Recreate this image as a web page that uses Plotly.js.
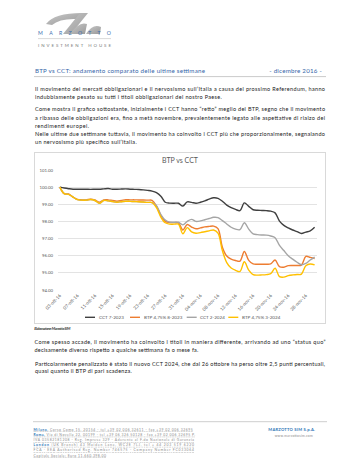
<!DOCTYPE html>
<html>
<head>
<meta charset="utf-8">
<script src="https://cdn.plot.ly/plotly-3.0.1.min.js"></script>
<style>
  html, body { margin:0; padding:0; background:#fff; }
  #page { position:relative; width:360px; height:466px; overflow:hidden; background:#fff; }
  #txt { position:absolute; left:0; top:0; }
  #frame { position:absolute; left:34px; top:152px; width:292px; height:172px; box-sizing:border-box; border:0.75px solid #d9d9d9; }
  #chart { position:absolute; left:34px; top:152px; width:292px; height:172px; }
  text { font-family: Lato, "Open Sans", sans-serif; }
</style>
</head>
<body>
<div id="page">
<svg id="txt" width="360" height="466" xmlns="http://www.w3.org/2000/svg">
  <defs>
    <linearGradient id="lg" x1="0" y1="0" x2="1" y2="1">
      <stop offset="0" stop-color="#c8c8c8"/>
      <stop offset="1" stop-color="#9a9a9a"/>
    </linearGradient>
  </defs>
  <path d="M46,24 Q54,13 82,13 L78,19 Q60,18 52,25 Z" fill="url(#lg)"/>
  <path d="M80,13 L88,13 L71,34 L63,34 Z" fill="url(#lg)"/>
  <path d="M70,34 Q79,21 87,24 L85,34 Z" fill="url(#lg)"/>
  <path d="M86,34 Q93,23 101,27 L100,34 Z" fill="url(#lg)"/>
  <text x="38" y="35.2" font-size="5.2" fill="#3a6fb0" textLength="73" lengthAdjust="spacing">MARZOTTO</text>
  <line x1="38" y1="38.6" x2="111" y2="38.6" stroke="#b5b5b5" stroke-width="0.5"/>
  <text x="38" y="46.6" font-size="4.4" fill="#7a7a7a" textLength="73" lengthAdjust="spacing">INVESTMENT HOUSE</text>

  <text x="35" y="73.2" font-size="6.2" fill="#3465a8" textLength="170" lengthAdjust="spacing">BTP vs CCT: andamento comparato delle ultime settimane</text>
  <text x="269.3" y="73.2" font-size="6.2" fill="#3465a8" textLength="52.4" lengthAdjust="spacing">- dicembre 2016 -</text>
  <line x1="34" y1="76.6" x2="326" y2="76.6" stroke="#a6a6a6" stroke-width="0.6"/>

  <g font-size="5.5" fill="#1a1a1a">
    <text x="35" y="91.2" textLength="290" lengthAdjust="spacing">Il movimento dei mercati obbligazionari e il nervosismo sull’Italia a causa del prossimo Referendum, hanno</text>
    <text x="35" y="98.8" textLength="186.7" lengthAdjust="spacing">indubbiamente pesato su tutti i titoli obbligazionari del nostro Paese.</text>

    <text x="35" y="111.4" textLength="290" lengthAdjust="spacing">Come mostra il grafico sottostante, inizialmente i CCT hanno “retto” meglio dei BTP, segno che il movimento</text>
    <text x="35" y="119.5" textLength="290" lengthAdjust="spacing">a ribasso delle obbligazioni era, fino a metà novembre, prevalentemente legato alle aspettative di rialzo dei</text>
    <text x="35" y="127.6" textLength="54" lengthAdjust="spacing">rendimenti europei.</text>
    <text x="35" y="135.7" textLength="290" lengthAdjust="spacing">Nelle ultime due settimane tuttavia, il movimento ha coinvolto i CCT più che proporzionalmente, segnalando</text>
    <text x="35" y="143.8" textLength="101.7" lengthAdjust="spacing">un nervosismo più specifico sull’Italia.</text>

    <text x="34.5" y="344.2" textLength="291" lengthAdjust="spacing">Come spesso accade, il movimento ha coinvolto i titoli in maniera differente, arrivando ad uno “status quo”</text>
    <text x="34.5" y="351.7" textLength="163.8" lengthAdjust="spacing">decisamente diverso rispetto a qualche settimana fa o mese fa.</text>

    <text x="35" y="365.5" textLength="290" lengthAdjust="spacing">Particolarmente penalizzato è stato il nuovo CCT 2024, che dal 26 ottobre ha perso oltre 2,5 punti percentuali,</text>
    <text x="35" y="373.2" textLength="96.7" lengthAdjust="spacing">quasi quanto il BTP di pari scadenza.</text>
  </g>

  <text x="34.3" y="329.5" font-size="3.9" font-style="italic" font-weight="bold" fill="#404040" textLength="36" lengthAdjust="spacing">Elaborazione: Marzotto SIM</text>

  <line x1="33" y1="421.7" x2="327" y2="421.7" stroke="#c0c0c0" stroke-width="0.8"/>
  <g font-size="3.4" fill="#8a8a8a" text-decoration="underline">
    <text x="33.5" y="430.5" textLength="159.2" lengthAdjust="spacing"><tspan fill="#2e75b6" font-weight="bold">Milano,</tspan> Corso Como 15, 20154 - tel +39 02 006 32611 - fax +39 02 006 32695</text>
    <text x="33.5" y="435.8" textLength="161.5" lengthAdjust="spacing"><tspan fill="#2e75b6" font-weight="bold">Roma,</tspan> Via di Novella 22, 00199 - tel +39 06 326 50128 - fax +39 02 006 32695   P.</text>
    <text x="33.5" y="441.1" textLength="160.5" lengthAdjust="spacing">IVA 03582181208 - Reg. Imprese 329 - Aderente al F.do Nazionale di Garanzia</text>
    <text x="33.5" y="445.9" textLength="160.5" lengthAdjust="spacing"><tspan fill="#2e75b6" font-weight="bold">London</tspan> (UK Branch) 43 Maiden Lane, WC2E 7LJ, tel + 44 203 519 6220</text>
    <text x="33.5" y="451.2" textLength="160.5" lengthAdjust="spacing">FCA - EEA Authorised Reg. Number 746575 - Company Number FC033064</text>
    <text x="33.5" y="456.5" textLength="72.5" lengthAdjust="spacing">Capitale Sociale: Euro 11.660.398,00</text>
  </g>
  <text x="268.3" y="430.8" font-size="4.1" font-weight="bold" fill="#2e75b6" textLength="46.7" lengthAdjust="spacing">MARZOTTO SIM S.p.A.</text>
  <text x="274.7" y="436.5" font-size="3.3" fill="#8a8a8a" textLength="38" lengthAdjust="spacing">www.marzottosim.com</text>
</svg>
<div id="frame"></div>
<div id="chart"></div>
</div>
<script>
// ---- data ----
const dates = [
 '2016-10-03','2016-10-04','2016-10-05','2016-10-06','2016-10-07','2016-10-08','2016-10-09',
 '2016-10-10','2016-10-11','2016-10-12','2016-10-13','2016-10-14','2016-10-15','2016-10-16',
 '2016-10-17','2016-10-18','2016-10-19','2016-10-20','2016-10-21','2016-10-22','2016-10-23',
 '2016-10-24','2016-10-25','2016-10-26','2016-10-27','2016-10-28','2016-10-29','2016-10-30',
 '2016-10-31','2016-11-01','2016-11-02','2016-11-03','2016-11-04','2016-11-05','2016-11-06',
 '2016-11-07','2016-11-08','2016-11-09','2016-11-10','2016-11-11','2016-11-12','2016-11-13',
 '2016-11-14','2016-11-15','2016-11-16','2016-11-17','2016-11-18','2016-11-19','2016-11-20',
 '2016-11-21','2016-11-22','2016-11-23','2016-11-24','2016-11-25','2016-11-26','2016-11-27',
 '2016-11-28','2016-11-29','2016-11-30'
];
const cct2023 = [100.00,99.95,99.91,99.88,99.88,99.88,99.88,99.87,99.88,99.88,99.90,99.92,99.88,99.88,
 99.89,99.90,99.88,99.87,99.86,99.84,99.81,99.77,99.68,99.47,99.12,99.07,99.06,99.06,
 98.90,99.14,99.11,99.06,99.12,99.20,99.30,99.38,99.35,99.18,98.95,98.80,98.70,98.63,
 99.08,98.88,98.68,98.65,98.64,98.63,98.60,98.50,98.02,97.77,97.62,97.50,97.41,97.30,
 97.38,97.45,97.66];
const btp2023 = [100.00,99.62,99.60,99.42,99.29,99.26,99.26,99.30,99.25,99.12,99.26,99.26,99.22,99.18,
 99.22,99.27,99.26,99.26,99.25,99.25,99.24,99.23,98.90,98.35,98.00,97.94,97.93,97.92,
 97.50,97.82,97.67,97.57,97.62,97.68,97.71,97.73,97.58,96.50,95.98,95.80,95.72,95.68,
 96.25,95.73,95.52,95.50,95.50,95.50,95.52,95.75,95.36,95.33,95.42,95.43,95.43,95.45,
 95.96,95.90,95.84];
const cct2024 = [100.00,99.62,99.58,99.42,99.27,99.24,99.24,99.28,99.22,99.06,99.22,99.20,99.16,99.12,
 99.15,99.18,99.17,99.16,99.15,99.13,99.11,99.10,98.92,98.40,98.08,97.96,97.95,97.95,
 97.80,98.00,98.12,98.00,98.03,98.10,98.17,98.24,98.22,98.05,97.85,97.66,97.55,97.52,
 97.92,97.55,97.27,97.23,97.21,97.20,97.15,97.05,96.60,96.30,96.00,95.80,95.62,95.47,
 95.55,95.75,95.92];
const btp2024 = [100.00,99.62,99.58,99.42,99.27,99.24,99.24,99.28,99.22,99.06,99.22,99.20,99.16,99.12,
 99.15,99.18,99.17,99.16,99.15,99.13,99.11,99.10,98.80,98.25,97.92,97.84,97.84,97.84,
 97.28,97.64,97.39,97.31,97.35,97.40,97.45,97.50,97.32,96.30,95.60,95.28,95.15,95.08,
 95.65,95.16,94.90,94.87,94.88,94.90,94.95,95.27,94.78,94.75,94.84,94.88,94.90,94.93,
 95.42,95.52,95.46];
const seriesNames = ['CCT 7-2023','BTP 4,75% 8-2023','CCT 2-2024','BTP 4,75% 3-2024'];
const seriesColors = ['#404040','#ED7D31','#A5A5A5','#FFC000'];
const tickDates = ['2016-10-03','2016-10-07','2016-10-11','2016-10-15','2016-10-19','2016-10-23',
 '2016-10-27','2016-10-31','2016-11-04','2016-11-08','2016-11-12','2016-11-16','2016-11-20',
 '2016-11-24','2016-11-28'];
const tickLabels = ['03-ott-16','07-ott-16','11-ott-16','15-ott-16','19-ott-16','23-ott-16',
 '27-ott-16','31-ott-16','04-nov-16','08-nov-16','12-nov-16','16-nov-16','20-nov-16',
 '24-nov-16','28-nov-16'];
const yTicks = [94,95,96,97,98,99,100,101];

// ---- chart ----
const allSeries = [cct2023, btp2023, cct2024, btp2024];
const traces = allSeries.map((ys, i) => ({
  type: 'scatter', mode: 'lines', x: dates, y: ys, name: seriesNames[i],
  line: { color: seriesColors[i], width: 1.4, shape: 'spline', smoothing: 1 },
  hoverinfo: 'skip'
}));

const W = 292, H = 172, M = { l: 24, r: 9, t: 18, b: 34 };
const pw = W - M.l - M.r, ph = H - M.t - M.b;
const toPX = ax => (ax - 34 - M.l) / pw;
const toPY = ay => (152 + H - M.b - ay) / ph;
const legendStarts = [85, 130, 186.7, 228.3];
const legY = toPY(317.3);
const shapes = [], annotations = [];
seriesNames.forEach((n, i) => {
  shapes.push({ type: 'line', xref: 'paper', yref: 'paper',
    x0: toPX(legendStarts[i]), x1: toPX(legendStarts[i] + 10), y0: legY, y1: legY,
    line: { color: seriesColors[i], width: 1.4 } });
  annotations.push({ xref: 'paper', yref: 'paper', x: toPX(legendStarts[i] + 11.5), y: legY,
    xanchor: 'left', yanchor: 'middle', text: n, showarrow: false,
    font: { size: 4.6, color: '#595959', family: 'Lato, sans-serif' } });
});

const layout = {
  width: W, height: H,
  margin: M,
  paper_bgcolor: 'rgba(0,0,0,0)', plot_bgcolor: 'rgba(0,0,0,0)',
  font: { family: 'Lato, sans-serif', color: '#595959' },
  title: { text: 'BTP vs CCT', font: { size: 7, color: '#595959' },
           x: 0.5, xanchor: 'center', y: 1 - 8.7 / H, yanchor: 'middle', yref: 'container' },
  showlegend: false,
  xaxis: {
    type: 'date', range: ['2016-10-02 14:00', '2016-11-30 13:00'],
    tickmode: 'array', tickvals: tickDates, ticktext: tickLabels,
    tickangle: -45, tickfont: { size: 4.6, color: '#595959' },
    showgrid: false, zeroline: false, showline: false, ticks: '', ticklabelstandoff: 1
  },
  yaxis: {
    range: [94, 101], tickmode: 'array', tickvals: yTicks,
    tickformat: '.2f', tickfont: { size: 4.3, color: '#595959' },
    gridcolor: '#d9d9d9', gridwidth: 0.75, zeroline: false, showline: false, ticks: '',
    ticklabelstandoff: 4
  },
  shapes: shapes, annotations: annotations
};
Plotly.newPlot('chart', traces, layout, { staticPlot: true, displayModeBar: false });
</script>
</body>
</html>
